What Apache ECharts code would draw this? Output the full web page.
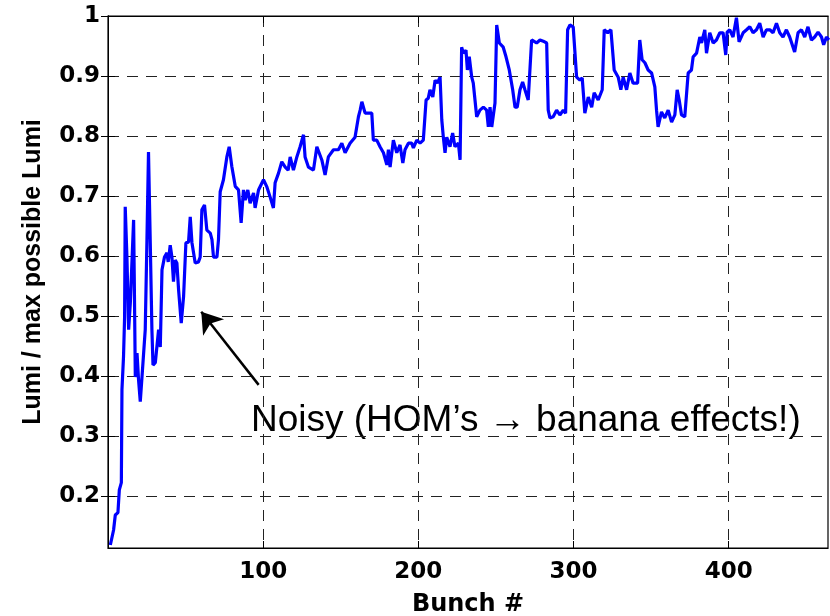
<!DOCTYPE html>
<html>
<head>
<meta charset="utf-8">
<script src="https://cdn.jsdelivr.net/npm/echarts@6/dist/echarts.min.js"></script>
<style>
html,body{margin:0;padding:0;background:#fff;}
#chart{width:830px;height:616px;}
</style>
</head>
<body>
<div id="chart"></div>
<script>
// ---- data ----
const bunch = [
1.5,3.6,4.7,6.4,7.3,8.6,9.0,10.0,10.7,11.1,12.2,12.9,13.3,14.4,16.5,16.9,17.6,18.7,19.7,20.8,
21.9,24.0,25.1,26.1,27.2,28.3,29.0,30.5,31.6,32.6,33.7,34.8,36.4,38.0,38.8,40.1,41.2,42.2,43.3,44.4,
45.5,47.2,48.7,50.2,51.9,53.0,54.1,55.2,56.2,58.3,59.4,60.5,62.2,63.7,65.9,67.0,68.0,70.2,71.2,72.3,
73.4,74.4,75.5,76.6,78.1,79.8,82.0,84.1,85.8,87.3,88.4,90.1,91.6,93.8,94.8,97.0,100.2,102.4,104.5,106.6,
107.7,109.9,112.0,114.2,116.1,117.4,119.5,121.7,123.8,126.0,127.0,129.2,132.4,134.6,137.8,139.9,142.0,145.3,148.5,150.7,
152.8,156.0,159.2,161.4,162.5,163.6,165.7,170.0,171.0,173.2,175.3,177.5,179.7,180.7,181.8,183.9,186.1,188.2,190.0,191.4,
193.6,195.7,196.8,199.0,201.1,203.2,205.0,206.4,207.5,209.3,210.8,212.2,214.0,215.1,216.1,217.2,218.3,220.4,222.1,223.6,
225.8,226.9,227.9,229.0,230.7,231.6,232.8,234.4,235.4,237.6,239.7,241.9,244.0,245.1,246.2,247.3,249.4,250.5,252.2,254.7,
256.5,258.6,260.8,262.3,263.7,265.5,267.2,268.7,270.8,273.0,274.0,276.2,278.4,280.5,282.7,283.7,284.8,286.9,289.1,291.2,
293.4,294.9,296.2,297.7,299.8,302.0,304.1,305.6,307.3,309.5,311.7,313.3,315.9,318.5,319.8,322.0,324.1,326.2,328.8,330.5,
332.0,334.2,336.3,338.4,341.3,342.7,344.2,346.0,348.1,350.3,352.4,353.5,354.5,356.7,358.8,361.0,363.2,365.3,366.8,368.1,
369.6,371.7,373.9,376.0,377.1,379.3,381.4,382.5,384.6,385.7,387.8,390.0,392.1,394.3,396.4,398.1,399.0,400.7,402.8,405.0,
406.7,409.3,411.5,413.6,415.7,417.9,420.0,422.2,424.3,426.5,428.6,430.8,432.9,435.0,437.2,439.3,442.5,444.7,446.9,449.0,
451.1,453.3,455.4,457.6,459.8,461.2,463.0,464.6
];
const lumi = [
0.118,0.143,0.168,0.172,0.210,0.222,0.377,0.432,0.498,0.682,0.598,0.522,0.477,0.522,0.660,0.570,0.398,0.438,0.393,0.357,
0.398,0.477,0.627,0.773,0.627,0.477,0.418,0.422,0.422,0.477,0.448,0.577,0.598,0.605,0.590,0.618,0.598,0.557,0.593,0.588,
0.543,0.488,0.532,0.622,0.623,0.665,0.622,0.622,0.588,0.590,0.598,0.677,0.685,0.643,0.638,0.627,0.598,0.598,0.627,0.707,
0.710,0.727,0.727,0.765,0.782,0.749,0.716,0.710,0.655,0.710,0.693,0.710,0.688,0.705,0.680,0.710,0.727,0.715,0.698,0.680,
0.722,0.738,0.757,0.748,0.743,0.765,0.743,0.765,0.782,0.802,0.765,0.748,0.743,0.782,0.760,0.735,0.765,0.777,0.777,0.788,
0.772,0.788,0.798,0.832,0.843,0.857,0.838,0.838,0.793,0.793,0.782,0.772,0.752,0.777,0.748,0.793,0.772,0.785,0.755,0.777,
0.788,0.788,0.780,0.793,0.788,0.793,0.860,0.863,0.877,0.865,0.893,0.888,0.898,0.827,0.798,0.772,0.798,0.782,0.805,0.782,
0.788,0.760,0.948,0.938,0.943,0.910,0.932,0.898,0.888,0.832,0.843,0.848,0.843,0.815,0.848,0.815,0.855,0.985,0.955,0.948,
0.932,0.910,0.877,0.848,0.848,0.877,0.890,0.877,0.860,0.960,0.963,0.955,0.960,0.958,0.955,0.843,0.830,0.832,0.843,0.835,
0.843,0.838,0.977,0.985,0.982,0.898,0.893,0.897,0.838,0.865,0.848,0.872,0.860,0.877,0.977,0.972,0.977,0.910,0.898,0.877,
0.898,0.877,0.905,0.888,0.888,0.960,0.927,0.922,0.910,0.905,0.882,0.843,0.815,0.840,0.830,0.843,0.823,0.835,0.877,0.860,
0.835,0.832,0.905,0.910,0.932,0.938,0.965,0.955,0.977,0.938,0.972,0.955,0.960,0.972,0.972,0.935,0.973,0.977,0.965,0.997,
0.957,0.972,0.977,0.982,0.972,0.977,0.988,0.965,0.977,0.977,0.972,0.988,0.972,0.965,0.977,0.965,0.940,0.972,0.977,0.965,
0.982,0.960,0.965,0.973,0.965,0.952,0.965,0.960
];
const xTicks = [100, 200, 300, 400];
const yTicks = [0.2, 0.3, 0.4, 0.5, 0.6, 0.7, 0.8, 0.9, 1];
const xRange = [0, 464];
const yRange = [0.113, 1];
const arrowFrom = [97.1, 0.385];
const arrowTo = [60.1, 0.507];
const noteText = 'Noisy (HOM\u2019s \u2192 banana effects!)';
const xTitle = 'Bunch #';
const yTitle = 'Lumi / max possible Lumi';

const points = bunch.map((b, i) => [b, lumi[i]]);

const tickFont = {fontFamily: '"DejaVu Sans"', fontWeight: 'bold', fontSize: 23, color: '#000'};
const gridDash = {type: [11, 8], color: '#222', width: 1};

const chart = echarts.init(document.getElementById('chart'), null, {renderer: 'canvas'});
chart.setOption({
  animation: false,
  backgroundColor: '#fff',
  grid: {left: 108, right: 2, top: 16, bottom: 68, containLabel: false, outerBoundsMode: 'none',
         show: true, borderColor: '#000', borderWidth: 1.2, backgroundColor: 'transparent'},
  xAxis: [{
    type: 'value', min: xRange[0], max: xRange[1], position: 'bottom',
    name: xTitle, nameLocation: 'middle', nameGap: 45,
    nameTextStyle: {fontFamily: '"DejaVu Sans"', fontWeight: 'bold', fontSize: 24, color: '#000'},
    axisLine: {show: true, lineStyle: {color: '#000'}},
    axisTick: {show: true, inside: true, length: 7, customValues: xTicks, lineStyle: {color: '#000'}},
    axisLabel: Object.assign({margin: 13, customValues: xTicks}, tickFont),
    splitLine: {show: true, lineStyle: gridDash}
  }, {
    type: 'value', min: xRange[0], max: xRange[1], position: 'top',
    axisLine: {show: true, lineStyle: {color: '#000'}},
    axisTick: {show: true, inside: true, length: 7, customValues: xTicks, lineStyle: {color: '#000'}},
    axisLabel: {show: false}, splitLine: {show: false}
  }],
  yAxis: [{
    type: 'value', min: yRange[0], max: yRange[1], position: 'left',
    name: yTitle, nameLocation: 'middle', nameGap: 62, nameRotate: 90,
    nameTextStyle: {fontFamily: '"Liberation Sans"', fontWeight: 'bold', fontSize: 25, color: '#000', padding: [0, 0, 0, 20]},
    axisLine: {show: true, lineStyle: {color: '#000'}},
    axisTick: {show: true, inside: true, length: 7, customValues: yTicks, lineStyle: {color: '#000'}},
    axisLabel: Object.assign({margin: 8, customValues: yTicks, formatter: v => String(+v.toFixed(1))}, tickFont),
    splitLine: {show: true, lineStyle: gridDash}
  }, {
    type: 'value', min: yRange[0], max: yRange[1], position: 'right',
    axisLine: {show: true, lineStyle: {color: '#000'}},
    axisTick: {show: true, inside: true, length: 7, customValues: yTicks, lineStyle: {color: '#000'}},
    axisLabel: {show: false}, splitLine: {show: false}
  }],
  series: [{
    type: 'line', data: points, xAxisIndex: 0, yAxisIndex: 0,
    showSymbol: false, symbol: 'none', smooth: false,
    lineStyle: {color: '#0000ff', width: 3.2},
    clip: true,
    markLine: {
      silent: true, animation: false,
      symbol: ['none', 'arrow'], symbolSize: 20,
      label: {show: false},
      itemStyle: {color: '#000'},
      lineStyle: {color: '#000', width: 2.5, type: 'solid'},
      emphasis: {disabled: true},
      data: [[{coord: arrowFrom}, {coord: arrowTo}]]
    }
  }],
  graphic: [{
    type: 'text', left: 251, top: 402, silent: true,
    style: {text: noteText, font: '37px "Liberation Sans"', fill: '#000'}
  }]
});
</script>
</body>
</html>
